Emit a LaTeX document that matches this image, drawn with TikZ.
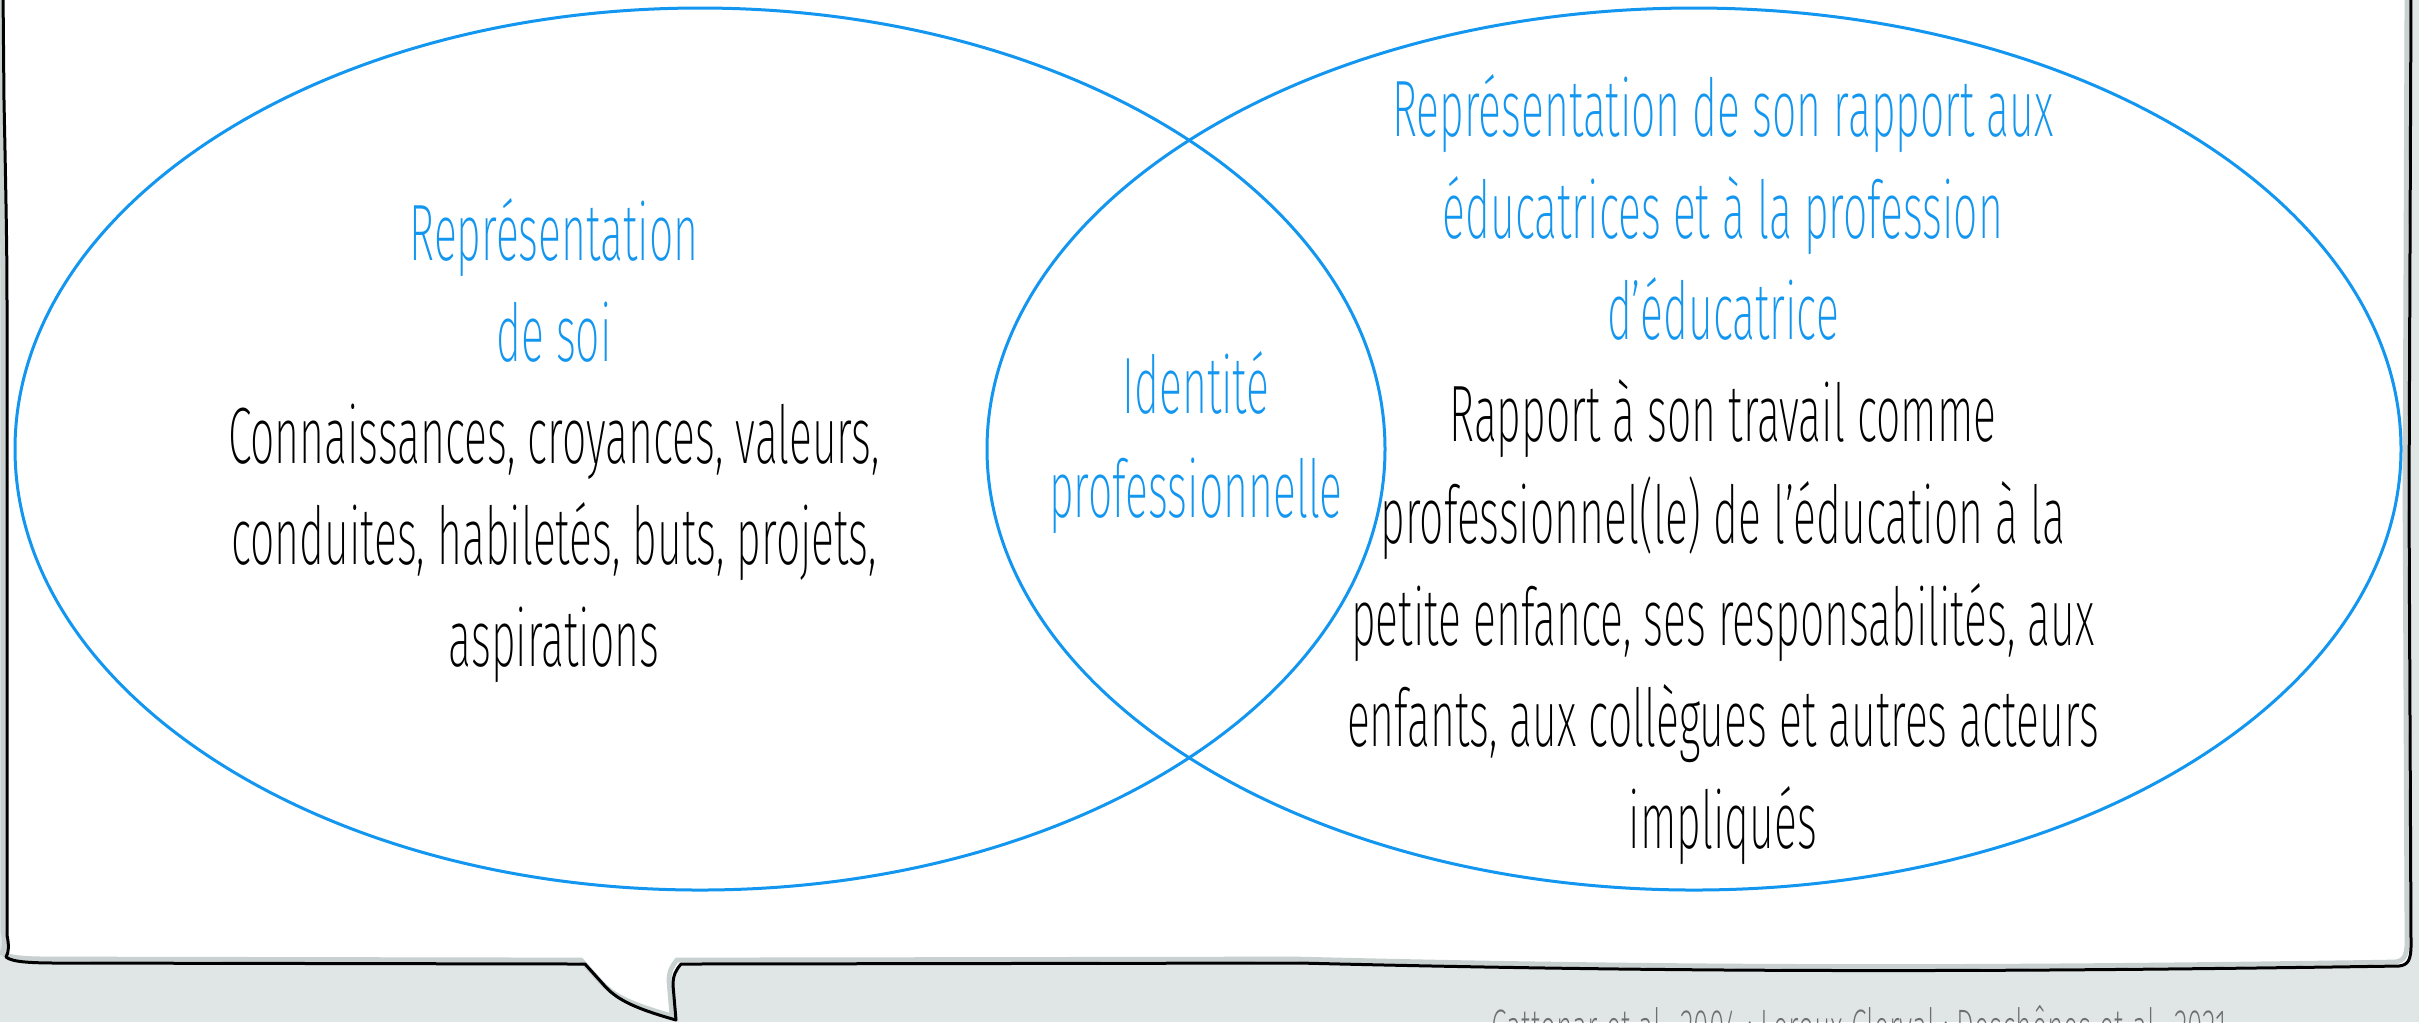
\documentclass[tikz,border=0pt]{standalone}
\usepackage{fontspec}
\IfFontExistsTF{Fira Sans ExtraLight}
  {\setmainfont{Fira Sans ExtraLight}[FakeStretch=0.535]}
  {\IfFontExistsTF{Fira Sans Light}
    {\setmainfont{Fira Sans Light}[FakeStretch=0.535]}
    {\setmainfont{Fira Sans}[FakeStretch=0.535]}}
\definecolor{vblue}{RGB}{18,150,240}
\definecolor{bggray}{RGB}{224,230,230}
\definecolor{shadowgray}{RGB}{200,208,208}
\definecolor{creditgray}{RGB}{110,110,110}
\tikzset{
  ln/.style={anchor=base, inner sep=0pt, font=\fontsize{20}{24}\selectfont},
  bl/.style={ln, text=vblue},
  bk/.style={ln, text=black},
  venn/.style={draw=vblue, line width=0.75pt},
  border/.style={draw=black, line width=0.75pt, line join=round, line cap=round},
}
\def\boxpath{(3,-10) -- (4,100) .. controls (6,200) and (7,250) .. (7,300) -- (7,935)
  .. controls (9,945) and (9,952) .. (6,957) .. controls (12,962) and (30,963) .. (60,963)
  -- (585,964) -- (603,984) .. controls (615,998) and (630,1007) .. (676,1020)
  -- (673,985) .. controls (673,975) and (676,970) .. (681,964)
  -- (1300,963) .. controls (1700,973) and (2000,972) .. (2399,966)
  .. controls (2408,965) and (2411,960) .. (2411,945) -- (2409,500) -- (2411,-10) -- cycle}
\begin{document}
\begin{tikzpicture}[x=0.25pt,y=-0.25pt]
  \useasboundingbox (0,0) rectangle (2419,1022);
  \clip (0,0) rectangle (2419,1022);
  \fill[bggray] (0,0) rectangle (2419,1022);
  % callout box
  \fill[white] \boxpath;
  \draw[shadowgray, line width=1.2pt, shift={(-4,-4)}] \boxpath;
  \draw[border] \boxpath;
  % Venn ellipses
  \draw[venn] (700,449) ellipse [x radius=685, y radius=441];
  \draw[venn] (1694,449) ellipse [x radius=707, y radius=441];
  % left block
  \node[bl] (l1) at (554,260) {Représentation};
  \node[bl] (l2) at (554,361.5) {de soi};
  \node[bk] (l3) at (554,463) {Connaissances, croyances, valeurs,};
  \node[bk] (l4) at (554,564.5) {conduites, habiletés, buts, projets,};
  \node[bk] (l5) at (554,666) {aspirations};
  % middle
  \node[bl] (m1) at (1196,413) {Identité};
  \node[bl] (m2) at (1196,517) {professionnelle};
  % right block
  \node[bl] (r1) at (1723,136) {Représentation de son rapport aux};
  \node[bl] (r2) at (1723,238) {éducatrices et à la profession};
  \node[bl] (r3) at (1723,339.5) {d’éducatrice};
  \node[bk] (r4) at (1723,441) {Rapport à son travail comme};
  \node[bk] (r5) at (1723,543) {professionnel(le) de l’éducation à la};
  \node[bk] (r6) at (1723,645) {petite enfance, ses responsabilités, aux};
  \node[bk] (r7) at (1723,746) {enfants, aux collègues et autres acteurs};
  \node[bk] (r8) at (1723,848) {impliqués};
  % credit (cut off at the bottom edge)
  \node[anchor=base, inner sep=0pt, text=creditgray, font=\fontsize{13.2}{16}\selectfont] (credit) at (1859,1046)
    {Cattonar et al., 2004 ; Leroux Clerval ; Deschênes et al., 2021};
\end{tikzpicture}
\end{document}
